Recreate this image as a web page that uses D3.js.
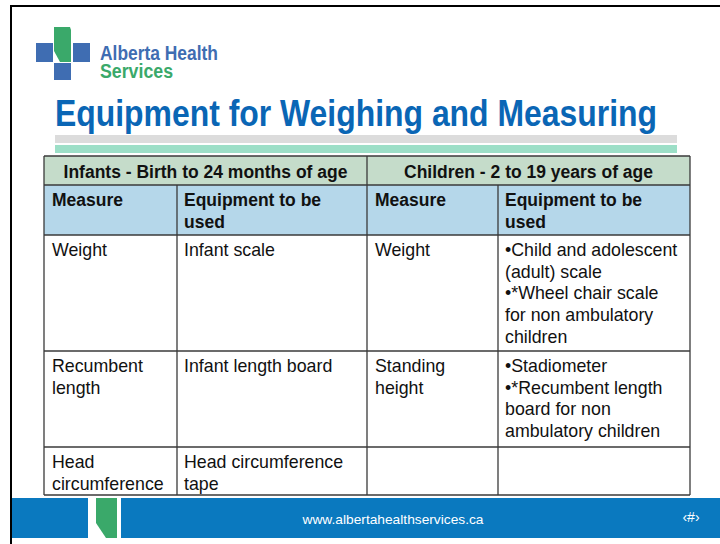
<!DOCTYPE html>
<html><head><meta charset="utf-8">
<script src="https://cdn.jsdelivr.net/npm/d3@7"></script>
<style>body{margin:0;background:#fff}svg{display:block}</style>
</head><body>
<script>
// ---------- data ----------
const title = "Equipment for Weighing and Measuring";
const brandLines = ["Alberta Health", "Services"];
const footerText = "www.albertahealthservices.ca";
const pageMarker = "\u2039#\u203A";
const groupHeaders = ["Infants - Birth to 24 months of age", "Children - 2 to 19 years of age"];
const columnHeaders = [["Measure"], ["Equipment to be", "used"], ["Measure"], ["Equipment to be", "used"]];
const infantMeasures = [["Weight"], ["Recumbent", "length"], ["Head", "circumference"]];
const infantEquipment = [["Infant scale"], ["Infant length board"], ["Head circumference", "tape"]];
const childMeasures = [["Weight"], ["Standing", "height"], [""]];
const childEquipment = [
  ["\u2022Child and adolescent", "(adult) scale", "\u2022*Wheel chair scale", "for non ambulatory", "children"],
  ["\u2022Stadiometer", "\u2022*Recumbent length", "board for non", "ambulatory children"],
  [""]
];

// ---------- layout ----------
const W = 720, H = 544;
const svg = d3.select("body").append("svg").attr("width", W).attr("height", H);
const FONT = "Arial, 'Liberation Sans', Helvetica, sans-serif";

// slide border (clipped at right/bottom)
svg.append("path").attr("d", "M11,544 V6 H720").attr("fill", "none").attr("stroke", "#000").attr("stroke-width", 2);

// logo
const logoBlue = "#3f6db2", logoGreen = "#3aa96a";
svg.append("rect").attr("x", 36).attr("y", 43).attr("width", 17).attr("height", 19).attr("fill", logoBlue);
svg.append("rect").attr("x", 73).attr("y", 43).attr("width", 17).attr("height", 19).attr("fill", logoBlue);
svg.append("rect").attr("x", 54).attr("y", 63).attr("width", 17).attr("height", 17).attr("fill", logoBlue);
svg.append("path").attr("d", "M54,27 H70 L71,30 V62 H60 L54,51 Z").attr("fill", logoGreen);
svg.append("text").attr("x", 100).attr("y", 60).attr("font-family", FONT).attr("font-weight", "bold")
  .attr("font-size", 20).attr("fill", logoBlue).attr("textLength", 118).attr("lengthAdjust", "spacingAndGlyphs")
  .text(brandLines[0]);
svg.append("text").attr("x", 100).attr("y", 78).attr("font-family", FONT).attr("font-weight", "bold")
  .attr("font-size", 20).attr("fill", logoGreen).attr("textLength", 73).attr("lengthAdjust", "spacingAndGlyphs")
  .text(brandLines[1]);

// title
svg.append("text").attr("x", 55).attr("y", 126).attr("font-family", FONT).attr("font-weight", "bold")
  .attr("font-size", 37).attr("fill", "#0a66b5").attr("textLength", 602).attr("lengthAdjust", "spacingAndGlyphs")
  .text(title);
svg.append("rect").attr("x", 55).attr("y", 135).attr("width", 622).attr("height", 8).attr("fill", "#dcdcdc");
svg.append("rect").attr("x", 55).attr("y", 145).attr("width", 622).attr("height", 8).attr("fill", "#9cdfc7");

// ---------- table ----------
const colEdges = [44, 177, 367, 498, 690];
const rowEdges = [156, 185, 235, 351, 447, 495];
const colX = d3.scaleOrdinal().domain(d3.range(4)).range(colEdges.slice(0, 4));
const colW = d3.scaleOrdinal().domain(d3.range(4)).range(d3.range(4).map(i => colEdges[i + 1] - colEdges[i]));
const rowY = d3.scaleOrdinal().domain(d3.range(5)).range(rowEdges.slice(0, 5));
const rowH = d3.scaleOrdinal().domain(d3.range(5)).range(d3.range(5).map(i => rowEdges[i + 1] - rowEdges[i]));
const lineH = 21.7, padX = 8, base = 21, fs = 17.5;

const tbl = svg.append("g");
// header backgrounds
tbl.append("rect").attr("x", colEdges[0]).attr("y", rowY(0)).attr("width", colEdges[4] - colEdges[0])
  .attr("height", rowH(0)).attr("fill", "#c5dcca");
tbl.append("rect").attr("x", colEdges[0]).attr("y", rowY(1)).attr("width", colEdges[4] - colEdges[0])
  .attr("height", rowH(1)).attr("fill", "#b5d7ea");

// group header texts
tbl.selectAll("text.grp").data(groupHeaders).join("text").attr("class", "grp")
  .attr("x", (d, i) => (colEdges[i * 2] + colEdges[i * 2 + 2]) / 2)
  .attr("y", rowY(0) + 22).attr("text-anchor", "middle")
  .attr("font-family", FONT).attr("font-weight", "bold").attr("font-size", fs).attr("fill", "#111")
  .text(d => d);

// cells
const bodyRows = infantMeasures.map((m, i) => [m, infantEquipment[i], childMeasures[i], childEquipment[i]]);
const cells = [];
columnHeaders.forEach((lines, c) => cells.push({ r: 1, c, lines, bold: true }));
bodyRows.forEach((row, r) => row.forEach((lines, c) => cells.push({ r: r + 2, c, lines, bold: false })));

const cellG = tbl.selectAll("g.cell").data(cells).join("g").attr("class", "cell")
  .attr("transform", d => `translate(${colX(d.c) + (d.c % 2 ? padX - 1 : padX)},${rowY(d.r) + base})`);
cellG.selectAll("text").data(d => d.lines.map(l => ({ l, bold: d.bold }))).join("text")
  .attr("y", (d, i) => i * lineH)
  .attr("font-family", FONT).attr("font-weight", d => d.bold ? "bold" : "normal")
  .attr("font-size", d => d.bold ? fs : 17.8).attr("fill", "#111")
  .text(d => d.l);

// grid lines
const gridColor = "#3a3a3a";
tbl.selectAll("line.h").data(rowEdges).join("line").attr("class", "h")
  .attr("x1", colEdges[0]).attr("x2", colEdges[4]).attr("y1", d => d).attr("y2", d => d)
  .attr("stroke", gridColor).attr("stroke-width", 1.3);
tbl.selectAll("line.v").data(colEdges).join("line").attr("class", "v")
  .attr("x1", d => d).attr("x2", d => d)
  .attr("y1", (d, i) => (i === 1 || i === 3) ? rowEdges[1] : rowEdges[0]).attr("y2", rowEdges[5])
  .attr("stroke", gridColor).attr("stroke-width", 1.3);

// ---------- footer ----------
const footBlue = "#0a79bf";
svg.append("rect").attr("x", 12).attr("y", 498).attr("width", 76).attr("height", 40).attr("fill", footBlue);
svg.append("rect").attr("x", 121).attr("y", 498).attr("width", 599).attr("height", 40).attr("fill", footBlue);
svg.append("path").attr("d", "M96,498 H117 V538 H106 L96,523 Z").attr("fill", "#3aa96a");
svg.append("text").attr("x", 393).attr("y", 524).attr("text-anchor", "middle").attr("font-family", FONT)
  .attr("font-size", 13.5).attr("fill", "#fff").attr("textLength", 181).attr("lengthAdjust", "spacingAndGlyphs")
  .text(footerText);
svg.append("text").attr("x", 691).attr("y", 522).attr("text-anchor", "middle").attr("font-family", FONT)
  .attr("font-size", 14).attr("fill", "#fff").text(pageMarker);
</script>
</body></html>
